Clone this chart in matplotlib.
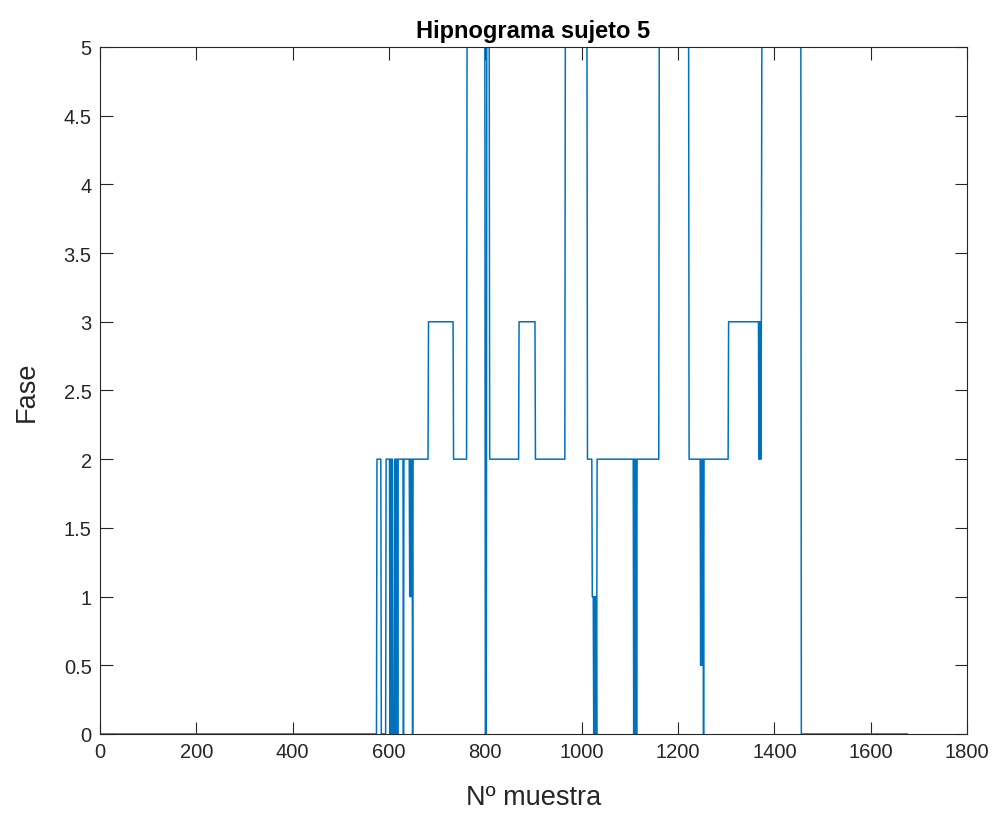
import numpy as np
import matplotlib
matplotlib.use('Agg')
import matplotlib.pyplot as plt

# hypnogram (phase, number of samples)
phase_runs = [
    (0, 574),
    (2, 9), (0, 10), (2, 8),
    (0, 1), (2, 1), (0, 1), (2, 1), (0, 1), (2, 1),
    (0, 4),
    (2, 2), (0, 1), (2, 1), (0, 1), (2, 1), (0, 1), (2, 1),
    (2, 10), (0, 1), (2, 12),
    (1, 1), (2, 1), (1, 1), (2, 1), (1, 1), (2, 1),
    (0, 1),
    (2, 32), (3, 52), (2, 28), (5, 38), (0, 3), (5, 6),
    (2, 61), (3, 34), (2, 62), (5, 46), (2, 10),
    (1, 3),
    (0, 1), (1, 1), (0, 1), (1, 1), (0, 1), (1, 1), (0, 1),
    (2, 76),
    (0, 1), (2, 1), (0, 1), (2, 1), (0, 1), (2, 1), (0, 1),
    (2, 46), (5, 62), (2, 24),
    (0.5, 1), (2, 1), (0.5, 1), (2, 1), (0.5, 1), (2, 1), (0, 1),
    (2, 51), (3, 63),
    (2, 1), (3, 1), (2, 1), (3, 1), (2, 1), (3, 1),
    (5, 82), (0, 221),
]

phase_values = [v for v, n in phase_runs]
run_lengths = [n for v, n in phase_runs]
fase = np.repeat(phase_values, run_lengths)
muestra = np.arange(1, len(fase) + 1)

x_ticks = list(range(0, 1801, 200))
y_ticks = [0, 0.5, 1, 1.5, 2, 2.5, 3, 3.5, 4, 4.5, 5]
y_tick_labels = ['0', '0.5', '1', '1.5', '2', '2.5', '3', '3.5', '4', '4.5', '5']

plt.rcParams['font.family'] = ['Liberation Sans', 'DejaVu Sans']
dark = '#262626'

fig = plt.figure(figsize=(9.99, 8.20), dpi=100)
ax = fig.add_axes([0.1001, 0.1037, 0.8679, 0.8378])

ax.plot(muestra, fase, color='#0072BD', linewidth=1.1)

ax.set_xlim(0, 1800)
ax.set_ylim(0, 5)
ax.set_xticks(x_ticks)
ax.set_yticks(y_ticks)
ax.set_yticklabels(y_tick_labels)

ax.tick_params(direction='in', length=9, width=0.8, top=True, right=True,
               colors=dark, labelsize=14.5, pad=6)
for side in ax.spines.values():
    side.set_color(dark)
    side.set_linewidth(0.8)

ax.set_title('Hipnograma sujeto 5', fontsize=17, fontweight='bold',
             color='black', pad=7)
ax.set_xlabel('Nº muestra', fontsize=19.5, color=dark, labelpad=16)
ax.set_ylabel('Fase', fontsize=19.5, color=dark, labelpad=17)

fig.savefig('out.png', dpi=100, facecolor='white')
